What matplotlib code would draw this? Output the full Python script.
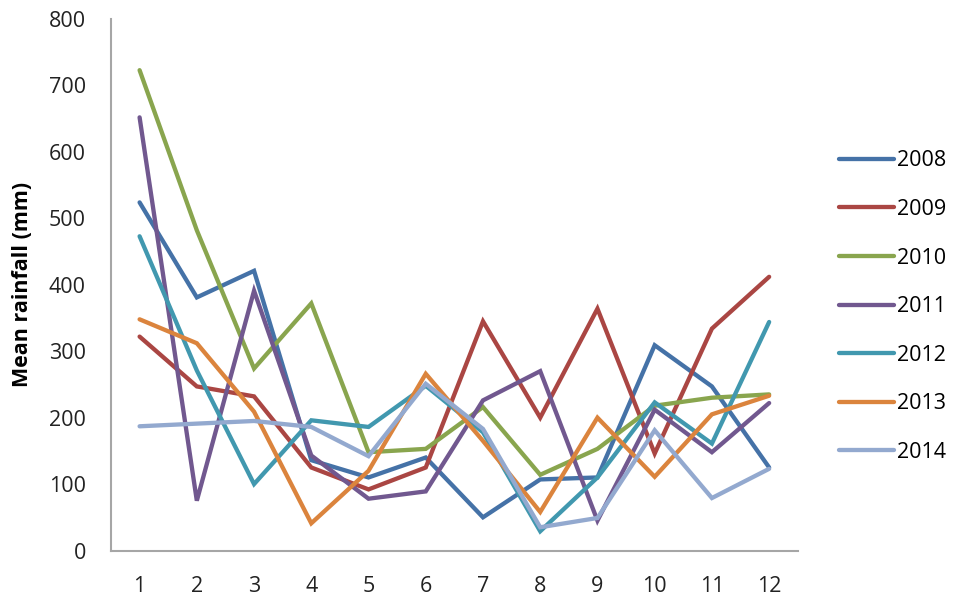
import matplotlib
matplotlib.use("Agg")
import matplotlib.pyplot as plt

months = [1, 2, 3, 4, 5, 6, 7, 8, 9, 10, 11, 12]
years = ["2008", "2009", "2010", "2011", "2012", "2013", "2014"]

r2008 = [524, 381, 421, 136, 110, 140, 50, 107, 110, 309, 247, 125]
r2009 = [322, 247, 232, 125, 92, 125, 345, 200, 364, 146, 334, 412]
r2010 = [723, 482, 274, 372, 148, 153, 216, 114, 153, 218, 230, 235]
r2011 = [652, 75, 391, 143, 78, 89, 226, 270, 45, 212, 148, 222]
r2012 = [473, 271, 100, 196, 186, 248, 178, 29, 110, 223, 161, 344]
r2013 = [348, 312, 209, 41, 120, 266, 165, 58, 200, 111, 205, 233]
r2014 = [187, 191, 195, 186, 142, 251, 183, 35, 49, 181, 79, 123]

series = [r2008, r2009, r2010, r2011, r2012, r2013, r2014]
colors = ["#4572A7", "#AA4643", "#89A54E", "#71588F", "#4198AF", "#DB843D", "#93A9CF"]

plt.rcParams['font.family'] = ['Open Sans', 'DejaVu Sans']

fig = plt.figure(figsize=(9.6, 6.02), dpi=100)
ax = fig.add_axes([0.1156, 0.0855, 0.7154, 0.8829])

for name, vals, c in zip(years, series, colors):
    ax.plot(months, vals, color=c, lw=3.1, label=name, solid_capstyle='round', solid_joinstyle='miter')

ax.set_xlim(0.5, 12.5)
ax.set_ylim(0, 800)
ax.set_xticks(months)
ax.set_yticks(range(0, 801, 100))
ax.tick_params(axis='both', length=0, labelsize=15.5, colors='#222222')
ax.tick_params(axis='x', pad=18.5)
ax.tick_params(axis='y', pad=18)
for s in ['top', 'right']:
    ax.spines[s].set_visible(False)
for s in ['left', 'bottom']:
    ax.spines[s].set_color('#A6A6A6')
    ax.spines[s].set_linewidth(1.5)

ax.set_ylabel("Mean rainfall (mm)", fontsize=15.5, fontweight='bold')
ax.yaxis.set_label_coords(-0.113, 0.5)

leg = ax.legend(loc='center left', bbox_to_anchor=(1.047, 0.459), frameon=False,
                fontsize=15.5, handlelength=2.55, handletextpad=0.15,
                labelspacing=1.28, borderaxespad=0.0)
for line in leg.get_lines():
    line.set_linewidth(3.1)
    line.set_solid_capstyle('round')

fig.savefig("out.png", dpi=100)
